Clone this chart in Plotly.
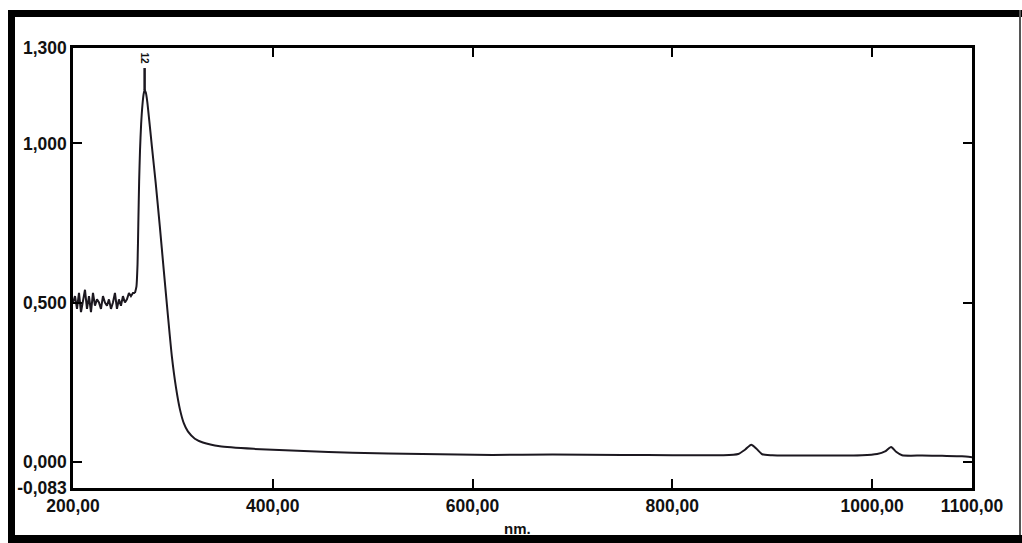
import plotly.graph_objects as go

# Absorption spectrum: wavelength (nm) vs absorbance
# Noisy region below the absorption band
noise_nm = [
    200, 202, 204, 206, 208, 210, 212, 214, 216, 218, 220, 222, 224, 226, 228, 230,
    232, 234, 236, 238, 240, 242, 244, 246, 248, 250, 252, 254, 256, 258, 260, 262,
]
noise_abs = [
    0.50, 0.52, 0.48, 0.53, 0.47, 0.51, 0.54, 0.48, 0.52, 0.47, 0.53, 0.49, 0.51, 0.50,
    0.48, 0.52, 0.50, 0.49, 0.51, 0.48, 0.50, 0.53, 0.48, 0.51, 0.49, 0.52, 0.50, 0.51,
    0.53, 0.52, 0.53, 0.53,
]
# Absorption band and long-wavelength baseline
band_nm = [
    262, 263.5, 264.6, 265.4, 266.2, 267.1, 268.2, 269.5, 270.7, 271.7, 272.9, 274.4,
    276.4, 279, 282.8, 286.9, 290.9, 295, 299, 303, 307, 311, 315, 322, 330, 347, 381,
    431, 480, 550, 620, 680, 750, 800, 850, 866, 873, 879, 884, 890, 900, 950, 990,
    1005, 1013, 1019, 1024, 1030, 1050, 1070, 1090, 1100,
]
band_abs = [
    0.53, 0.55, 0.62, 0.75, 0.88, 0.98, 1.06, 1.12, 1.155, 1.168, 1.16, 1.13,
    1.07, 0.99, 0.875, 0.74, 0.60, 0.46, 0.33, 0.235, 0.165, 0.12, 0.095, 0.072,
    0.060, 0.048, 0.040, 0.033, 0.028, 0.024, 0.021, 0.022, 0.021, 0.020, 0.020,
    0.024, 0.038, 0.053, 0.041, 0.023, 0.020, 0.019, 0.020, 0.024, 0.032, 0.046,
    0.031, 0.020, 0.019, 0.018, 0.017, 0.014,
]

# Peak marker
peak_nm = 271.7
peak_marker_y = [1.168, 1.237]
peak_label = "12"

x_ticks = [200, 400, 600, 800, 1000, 1100]
x_ticktext = ["200,00", "400,00", "600,00", "800,00", "1000,00", "1100,00"]
y_ticks = [-0.083, 0.0, 0.5, 1.0, 1.3]
y_ticktext = ["-0,083", "0,000", "0,500", "1,000", "1,300"]
x_title = "nm."

W, H = 1022, 543
L, R, T, B = 73, 50, 48, 55
PW, PH = W - L - R, H - T - B


def px(xp):
    return (xp - L) / PW


def py(yp):
    return (H - B - yp) / PH


ink = "#1c1820"
fig = go.Figure()
fig.add_trace(go.Scatter(
    x=noise_nm, y=noise_abs, mode="lines",
    line=dict(color=ink, width=2), showlegend=False,
))
fig.add_trace(go.Scatter(
    x=band_nm, y=band_abs, mode="lines",
    line=dict(color=ink, width=2, shape="spline", smoothing=0.6), showlegend=False,
))
fig.add_trace(go.Scatter(
    x=[peak_nm, peak_nm], y=peak_marker_y, mode="lines",
    line=dict(color=ink, width=2.5), showlegend=False, hoverinfo="skip",
))

tick_font = dict(family="Liberation Sans, Arial, sans-serif", size=17.5,
                 color="#111111", weight="bold")

fig.update_xaxes(
    range=[200, 1100], tickvals=x_ticks, ticktext=x_ticktext,
    showgrid=False, zeroline=False, showline=True, linecolor="black",
    linewidth=2.5, mirror="ticks", ticks="inside", ticklen=9, tickwidth=2,
    tickcolor="black", tickfont=tick_font,
)
fig.update_yaxes(
    range=[-0.083, 1.3], tickvals=y_ticks, ticktext=y_ticktext,
    showgrid=False, zeroline=False, showline=True, linecolor="black",
    linewidth=2.5, mirror="ticks", ticks="inside", ticklen=9, tickwidth=2,
    tickcolor="black", tickfont=tick_font,
)

shapes = [
    # black frame around the print-out
    dict(type="rect", xref="paper", yref="paper", x0=px(8), x1=px(1022),
         y0=py(10), y1=py(17), fillcolor="black", line_width=0, layer="above"),
    dict(type="rect", xref="paper", yref="paper", x0=px(8), x1=px(15),
         y0=py(10), y1=py(543), fillcolor="black", line_width=0, layer="above"),
    dict(type="rect", xref="paper", yref="paper", x0=px(8), x1=px(1022),
         y0=py(535), y1=py(543), fillcolor="black", line_width=0, layer="above"),
    dict(type="rect", xref="paper", yref="paper", x0=px(1019), x1=px(1021),
         y0=py(10), y1=py(535), fillcolor="#555555", line_width=0, layer="above"),
]

annotations = [
    dict(text=x_title, xref="paper", yref="paper", x=px(517), y=py(528),
         showarrow=False, xanchor="center", yanchor="middle",
         font=dict(family="Liberation Sans, Arial, sans-serif", size=15,
                   color="#111111", weight="bold")),
    dict(text=peak_label, x=peak_nm, y=1.268, xref="x", yref="y",
         showarrow=False, textangle=90,
         font=dict(family="Liberation Sans, Arial, sans-serif", size=10,
                   color="#111111", weight="bold")),
]

fig.update_layout(
    width=W, height=H,
    margin=dict(l=L, r=R, t=T, b=B),
    paper_bgcolor="white", plot_bgcolor="white",
    shapes=shapes, annotations=annotations,
    showlegend=False,
)

fig.write_html("out.html")
